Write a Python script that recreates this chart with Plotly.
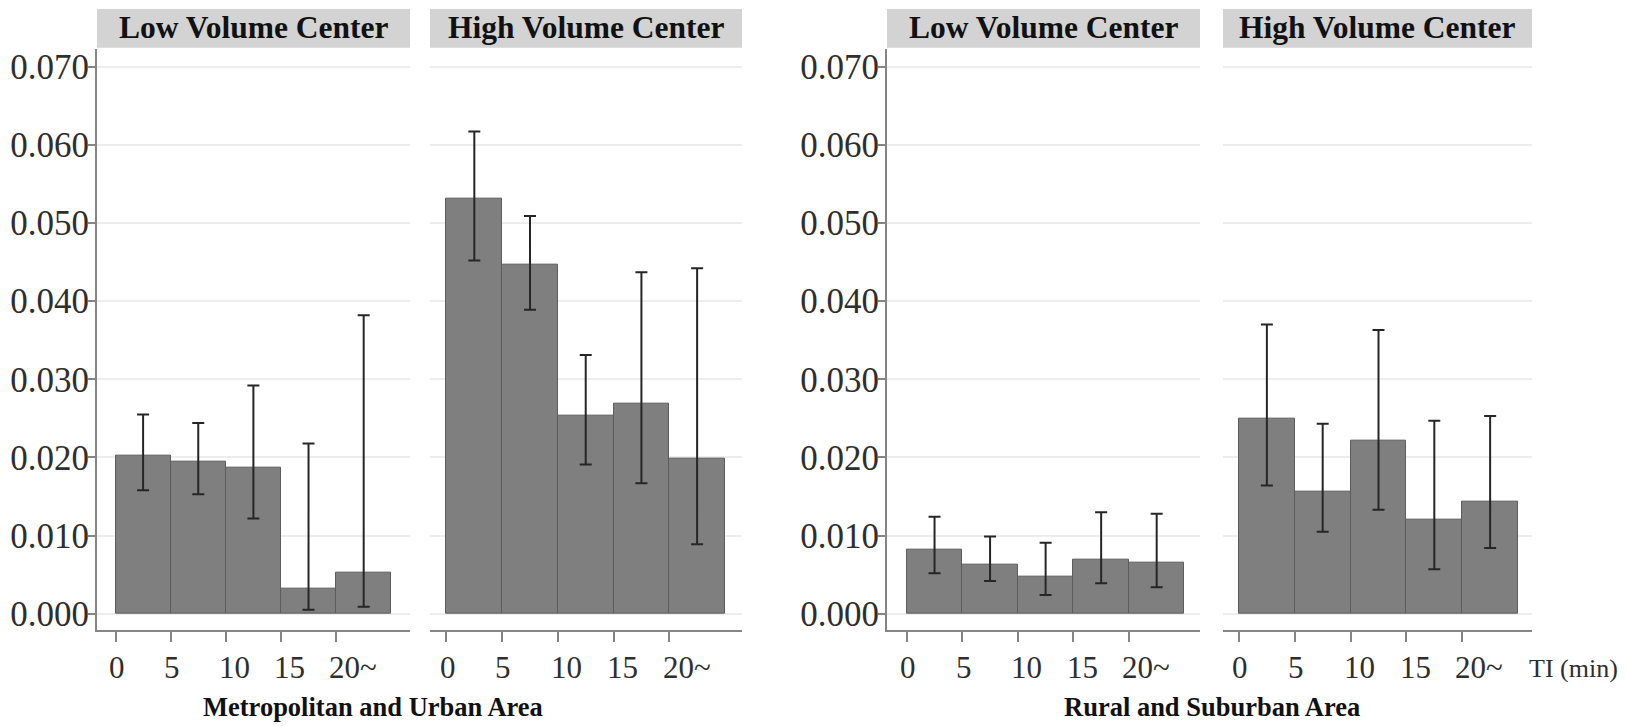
import plotly.graph_objects as go

# Travel-interval bins (minutes) and their labels
bin_centers = [2.5, 7.5, 12.5, 17.5, 22.5]
tick_vals = [0, 5, 10, 15, 20]
tick_labels = ["0", "5", "10", "15", "20~"]

# Rate per bin with lower / upper confidence limits
metro_low = [0.0202, 0.0194, 0.0187, 0.0032, 0.0052]
metro_low_lo = [0.0158, 0.0153, 0.0122, 0.0005, 0.0009]
metro_low_hi = [0.0255, 0.0244, 0.0292, 0.0218, 0.0382]

metro_high = [0.0531, 0.0447, 0.0253, 0.0269, 0.0199]
metro_high_lo = [0.0452, 0.0389, 0.0191, 0.0167, 0.0089]
metro_high_hi = [0.0617, 0.0509, 0.0331, 0.0437, 0.0442]

rural_low = [0.0082, 0.0063, 0.0047, 0.0069, 0.0065]
rural_low_lo = [0.0052, 0.0042, 0.0024, 0.0039, 0.0034]
rural_low_hi = [0.0124, 0.0099, 0.0091, 0.0130, 0.0128]

rural_high = [0.0249, 0.0156, 0.0221, 0.0120, 0.0144]
rural_high_lo = [0.0164, 0.0105, 0.0133, 0.0057, 0.0084]
rural_high_hi = [0.0370, 0.0243, 0.0363, 0.0247, 0.0253]

panel_titles = ["Low Volume Center", "High Volume Center",
                "Low Volume Center", "High Volume Center"]
group_titles = ["Metropolitan and Urban Area", "Rural and Suburban Area"]
x_unit = "TI (min)"

W, H = 1626, 726
SERIF = "Liberation Serif, Times New Roman, serif"
XTICK_SIZE = 31

panels = [
    (metro_low, metro_low_lo, metro_low_hi),
    (metro_high, metro_high_lo, metro_high_hi),
    (rural_low, rural_low_lo, rural_low_hi),
    (rural_high, rural_high_lo, rural_high_hi),
]

# pixel extents of each panel and its x range
px_domains = [(97, 410), (430, 742), (887, 1200), (1223, 1532)]
x_ranges = [(-1.68, 26.7), (-1.48, 26.53), (-1.78, 26.4), (-1.43, 26.25)]
y_dom = [1 - 633 / H, 1 - 48 / H]
y_range = [-0.00203, 0.0723]

fig = go.Figure()

for i, (vals, lo, hi) in enumerate(panels):
    k = "" if i == 0 else str(i + 1)
    fig.add_trace(go.Bar(
        x=bin_centers, y=vals, width=5,
        marker=dict(color="#7f7f7f", line=dict(color="#5c5c5c", width=1)),
        error_y=dict(type="data", symmetric=False,
                     array=[h - v for h, v in zip(hi, vals)],
                     arrayminus=[v - l for v, l in zip(vals, lo)],
                     color="#262626", thickness=2, width=6),
        xaxis="x" + k, yaxis="y" + k, showlegend=False,
    ))
    x0, x1 = px_domains[i]
    show_y = i in (0, 2)
    fig.layout["xaxis" + k] = dict(
        domain=[x0 / W, x1 / W], range=list(x_ranges[i]), anchor="y" + k,
        showgrid=False, zeroline=False,
        showline=True, linecolor="#858585", linewidth=2,
        ticks="outside", ticklen=10, tickwidth=2, tickcolor="#858585",
        tickvals=tick_vals, showticklabels=False,
    )
    fig.layout["yaxis" + k] = dict(
        domain=y_dom, range=y_range, anchor="x" + k,
        showgrid=True, gridcolor="#ededed", gridwidth=1.5,
        zeroline=False, tick0=0, dtick=0.01, tickformat=".3f",
        showline=show_y, linecolor="#858585", linewidth=2,
        ticks="outside" if show_y else "", ticklen=7, tickwidth=2,
        tickcolor="#858585", showticklabels=show_y,
        ticklabelstandoff=-8,
        tickfont=dict(family=SERIF, size=35, color="#2e2e2e"),
    )
    # x tick labels: first digit sits on its tick, the rest runs right
    for tv, tt in zip(tick_vals, tick_labels):
        fig.add_annotation(xref="x" + k, yref="paper", x=tv, y=1 - 671 / H,
                           text=tt, showarrow=False,
                           xanchor="left", yanchor="middle",
                           xshift=-XTICK_SIZE * 0.25 - 1,
                           font=dict(family=SERIF, size=XTICK_SIZE,
                                     color="#2e2e2e"))
    # grey strip with the panel title
    fig.add_shape(type="rect", xref="paper", yref="paper",
                  x0=x0 / W, x1=x1 / W, y0=1 - 47 / H, y1=1 - 8 / H,
                  fillcolor="#d3d3d3", line=dict(width=0), layer="below")
    fig.add_annotation(xref="paper", yref="paper",
                       x=(x0 + x1) / 2 / W, y=1 - 27 / H,
                       text="<b>" + panel_titles[i] + "</b>", showarrow=False,
                       xanchor="center", yanchor="middle",
                       font=dict(family=SERIF, size=31.5, color="#111111"))

for cx, t in zip([373, 1212], group_titles):
    fig.add_annotation(xref="paper", yref="paper", x=cx / W, y=1 - 711 / H,
                       text="<b>" + t + "</b>", showarrow=False,
                       xanchor="center", yanchor="middle",
                       font=dict(family=SERIF, size=26.5, color="#111111"))

fig.add_annotation(xref="paper", yref="paper", x=1573 / W, y=1 - 672 / H,
                   text=x_unit, showarrow=False,
                   xanchor="center", yanchor="middle",
                   font=dict(family=SERIF, size=26, color="#2e2e2e"))

fig.update_layout(
    width=W, height=H, margin=dict(l=0, r=0, t=0, b=0),
    paper_bgcolor="white", plot_bgcolor="white", bargap=0,
)

fig.write_html("out.html")
